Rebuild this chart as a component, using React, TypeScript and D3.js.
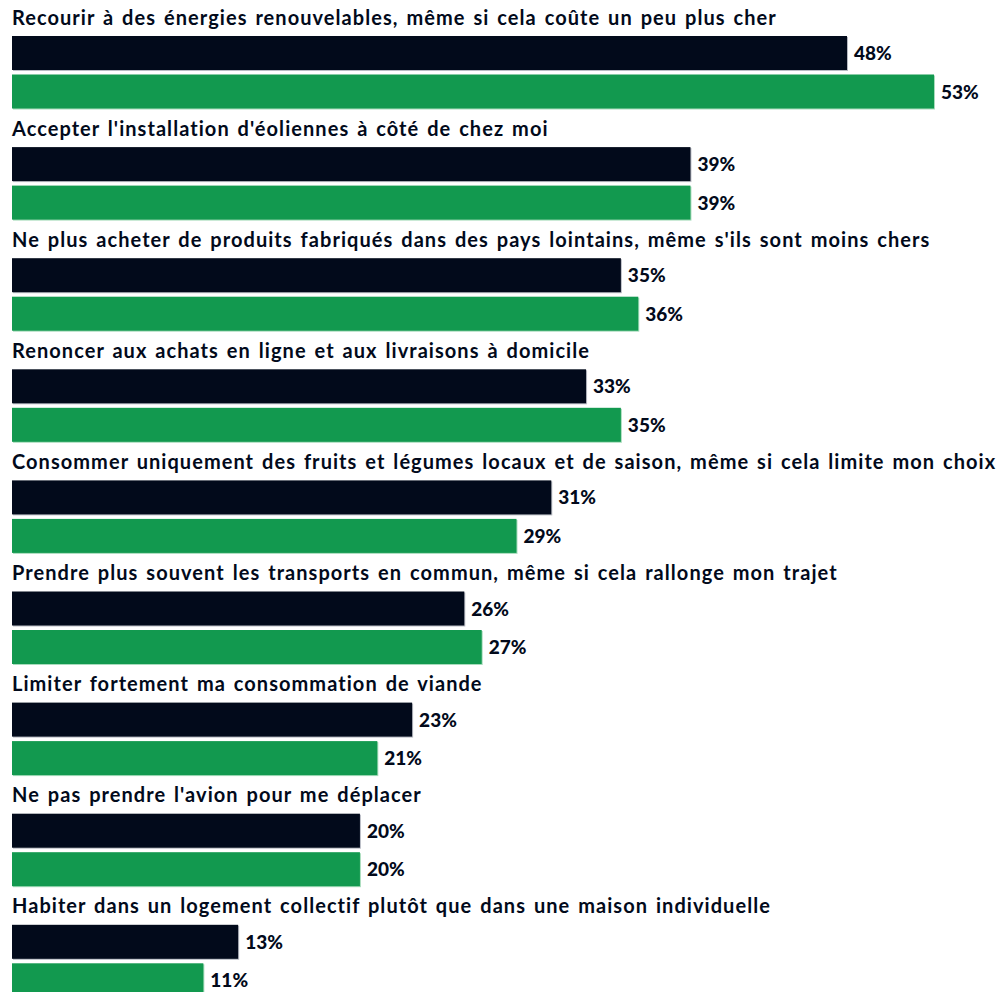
import React from "react";
import * as d3 from "d3";

const categories = [
  "Recourir à des énergies renouvelables, même si cela coûte un peu plus cher",
  "Accepter l'installation d'éoliennes à côté de chez moi",
  "Ne plus acheter de produits fabriqués dans des pays lointains, même s'ils sont moins chers",
  "Renoncer aux achats en ligne et aux livraisons à domicile",
  "Consommer uniquement des fruits et légumes locaux et de saison, même si cela limite mon choix",
  "Prendre plus souvent les transports en commun, même si cela rallonge mon trajet",
  "Limiter fortement ma consommation de viande",
  "Ne pas prendre l'avion pour me déplacer",
  "Habiter dans un logement collectif plutôt que dans une maison individuelle",
];
const seriesDark = [48, 39, 35, 33, 31, 26, 23, 20, 13];
const seriesGreen = [53, 39, 36, 35, 29, 27, 21, 20, 11];

const W = 1001;
const H = 992;

export default function App() {
  const x = d3.scaleLinear().domain([0, 53]).range([12, 934]);
  const y = d3
    .scaleBand<number>()
    .domain(d3.range(categories.length))
    .range([0, 111.1 * categories.length])
    .paddingInner(0)
    .paddingOuter(0);
  const barH = 34;
  const font = "Lato, 'Noto Sans', sans-serif";
  const dark = "#020a1b";
  const green = "#12994f";
  const series = [
    { values: seriesDark, fill: dark, edge: "#b9bcc4", dy: 36 },
    { values: seriesGreen, fill: green, edge: "#a8dcbc", dy: 74.5 },
  ];
  return (
    <svg
      width={W}
      height={H}
      style={{ position: "absolute", left: 0, top: 0, background: "#fff" }}
    >
      {categories.map((c, i) => {
        const gy = y(i)!;
        return (
          <g key={i}>
            <text
              x={12}
              y={gy + 24.5}
              fontFamily={font}
              fontWeight={700}
              fontSize={20}
              letterSpacing={1.05}
              wordSpacing={2}
              fill={dark}
            >
              {c}
            </text>
            {series.map((s, k) => {
              const v = s.values[i];
              const by = gy + s.dy;
              return (
                <g key={k}>
                  <rect x={x(0) + 1} y={by + 1} width={x(v) - x(0)} height={barH} fill={s.edge} />
                  <rect x={x(0)} y={by} width={x(v) - x(0)} height={barH} fill={s.fill} />
                  <text
                    x={x(v) + 7}
                    y={by + barH / 2 + 7}
                    fontFamily={font}
                    fontWeight={900}
                    fontSize={19}
                    fill={dark}
                  >
                    {v}%
                  </text>
                </g>
              );
            })}
          </g>
        );
      })}
    </svg>
  );
}
